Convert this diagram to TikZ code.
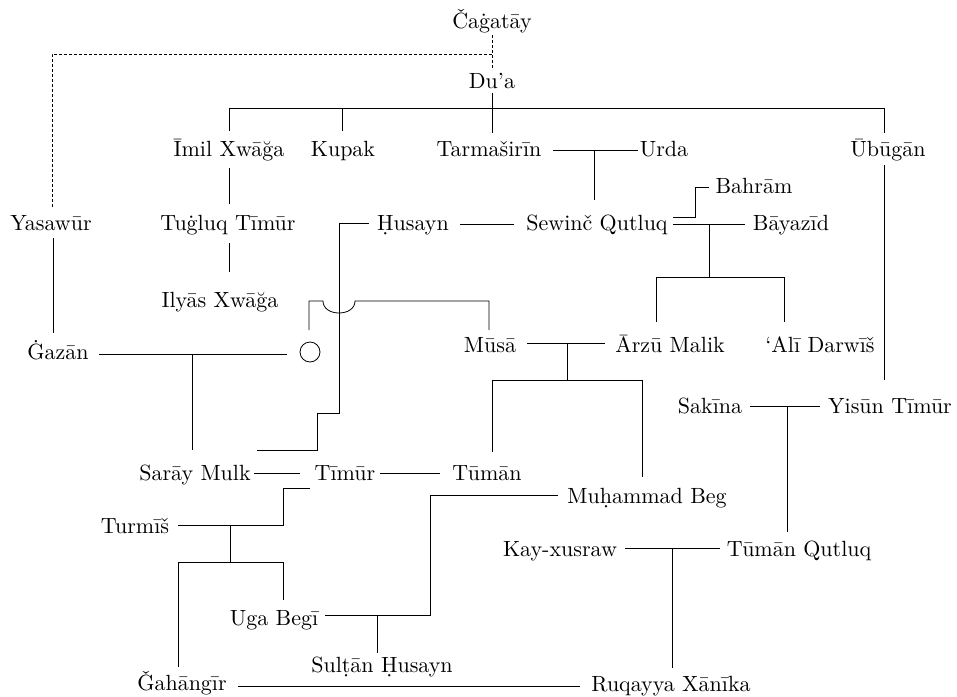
\documentclass[tikz,border=0pt]{standalone}
\usepackage{fontspec}
\setmainfont{lmroman10-regular.otf}
\begin{document}
\begin{tikzpicture}[x=1pt,y=-1pt,
  person/.style={inner sep=0pt, outer sep=0pt, anchor=base, font=\fontsize{22}{26}\selectfont},
  link/.style={line width=0.8pt, black},
  dl/.style={line width=0.8pt, black, dash pattern=on 3pt off 2pt}]
\useasboundingbox (0,0) rectangle (957,696);
% nodes
\node[person] (cag) at (492,28) {Čaġatāy};
\node[person] (dua) at (492,88) {Du’a};
\node[person] (imil) at (229,156) {Īmil Xwāğa};
\node[person] (kupak) at (343,156) {Kupak};
\node[person] (tarm) at (489,156) {Tarmaširīn};
\node[person] (urda) at (664,156) {Urda};
\node[person] (ubug) at (888,156) {Ūbūgān};
\node[person] (bahram) at (754,193) {Bahrām};
\node[person] (yasa) at (51,230) {Yasawūr};
\node[person] (tugluq) at (228,230) {Tuġluq Tīmūr};
\node[person] (husayn) at (413,230) {Ḥusayn};
\node[person] (sewinc) at (597,230) {Sewinč Qutluq};
\node[person] (bayazid) at (791,230) {Bāyazīd};
\node[person] (ilyas) at (220,307) {Ilyās Xwāğa};
\node[person] (gazan) at (58,359) {Ġazān};
\node[draw, circle, line width=0.8pt, minimum size=20pt, inner sep=0pt] (circ) at (310,352) {};
\node[person] (musa) at (490,352) {Mūsā};
\node[person] (arzu) at (670,352) {Ārzū Malik};
\node[person] (ali) at (820,352) {‘Alī Darwīš};
\node[person] (sakina) at (710,413) {Sakīna};
\node[person] (yisun) at (890,413) {Yisūn Tīmūr};
\node[person] (saray) at (195,480) {Sarāy Mulk};
\node[person] (timur) at (345,480) {Tīmūr};
\node[person] (tuman) at (487,480) {Tūmān};
\node[person] (muhammad) at (647,503) {Muḥammad Beg};
\node[person] (turmis) at (135,533) {Turmīš};
\node[person] (kay) at (560,556) {Kay-xusraw};
\node[person] (tumanq) at (799,556) {Tūmān Qutluq};
\node[person] (uga) at (274,625) {Uga Begī};
\node[person] (sultan) at (382,672) {Sulṭān Ḥusayn};
\node[person] (gahan) at (182,690) {Ǧahāngīr};
\node[person] (ruq) at (671,691) {Ruqayya Xānīka};
% dashed
\coordinate (dashj) at ([shift={(0,26)}]cag.base);
\draw[dl] ([shift={(0,7)}]cag.base) -- ([shift={(0,-18)}]dua.base);
\draw[dl] (dashj) -| ([shift={(1,-22)}]yasa.base);
% Du'a children
\draw[link] ([shift={(0,5)}]dua.base) -- ([shift={(3,-23)}]tarm.base);
\draw[link] ([shift={(0,-25)}]imil.base) |- ([shift={(-4,-48)}]ubug.base) -- ([shift={(-4,-23)}]ubug.base);
\draw[link] ([shift={(-1,-25)}]kupak.base) -- ++(0,-23);
% Tarmasirin - Urda
\draw[link] ([shift={(64,-6)}]tarm.base) -- ([shift={(-26,-6)}]urda.base);
\draw[link] ([shift={(105,-6)}]tarm.base) -- ([shift={(-3,-30)}]sewinc.base);
% Imil line
\draw[link] ([shift={(0,12)}]imil.base) -- ([shift={(1,-26)}]tugluq.base);
\draw[link] ([shift={(1,13)}]tugluq.base) -- ([shift={(9,-35)}]ilyas.base);
% Ububgan
\draw[link] ([shift={(-4,9)}]ubug.base) -- ([shift={(-6,-33)}]yisun.base);
% Husayn - Sewinc
\draw[link] ([shift={(47,-6)}]husayn.base) -- ([shift={(-83,-6)}]sewinc.base);
\draw[link] ([shift={(-44,-7)}]husayn.base) -| (339,413) -| (317,450) -- ([shift={(62,-30)}]saray.base);
% Sewinc - Bahram / Bayazid
\draw[link] ([shift={(76,-13)}]sewinc.base) -- ++(22,0) |- ([shift={(-45,-6)}]bahram.base);
\draw[link] ([shift={(76,-6)}]sewinc.base) -- ([shift={(-46,-6)}]bayazid.base);
\draw[link] ([shift={(-82,-6)}]bayazid.base) -- ++(0,53);
\draw[link] ([shift={(-14,-30)}]arzu.base) |- ([shift={(-36,-75)}]ali.base) -- ([shift={(-36,-30)}]ali.base);
% Yasawur - Gazan
\draw[link] ([shift={(2,8)}]yasa.base) -- ([shift={(-5,-26)}]gazan.base);
\draw[link] ([shift={(41,-5)}]gazan.base) -- ([shift={(-23,2)}]circ.center);
\draw[link] ([shift={(134,-5)}]gazan.base) -- ([shift={(-3,-30)}]saray.base);
% circle - Musa hook with hop over the Husayn line
\coordinate (hopA) at (323,301);
\coordinate (hopB) at (355,301);
\draw[link] ([shift={(-1,-22)}]circ.center) |- (hopA)
  .. controls (323,317) and (355,317) .. (hopB)
  -| ([shift={(-1,-22)}]musa.base);
% Musa - Arzu
\draw[link] ([shift={(37,-9)}]musa.base) -- ([shift={(-65,-9)}]arzu.base);
\draw[link] ([shift={(77,-9)}]musa.base) -- ++(0,37);
\draw[link] ([shift={(5,-28)}]tuman.base) |- ([shift={(-5,-123)}]muhammad.base) -- ([shift={(-5,-26)}]muhammad.base);
% Sakina - Yisun
\draw[link] ([shift={(40,-7)}]sakina.base) -- ([shift={(-70,-7)}]yisun.base);
\draw[link] ([shift={(77,-7)}]sakina.base) -- ([shift={(-12,-24)}]tumanq.base);
% Saray - Timur - Tuman
\draw[link] ([shift={(59,-7)}]saray.base) -- ([shift={(-45,-7)}]timur.base);
\draw[link] ([shift={(35,-7)}]timur.base) -- ([shift={(-47,-7)}]tuman.base);
% Timur - Turmis
\draw[link] ([shift={(-35,8)}]timur.base) -| (283,525) -- ([shift={(43,-8)}]turmis.base);
\draw[link] ([shift={(95,-8)}]turmis.base) -- ++(0,37);
\draw[link] ([shift={(-4,-23)}]gahan.base) |- ([shift={(9,-63)}]uga.base) -- ([shift={(9,-25)}]uga.base);
% Uga Begi - Muhammad Beg
\draw[link] ([shift={(51,-10)}]uga.base) -| (430,495) -- ([shift={(-89,-8)}]muhammad.base);
\draw[link] ([shift={(103,-10)}]uga.base) -- ([shift={(-5,-19)}]sultan.base);
% Kay-xusraw - Tuman Qutluq
\draw[link] ([shift={(65,-8)}]kay.base) -- ([shift={(-79,-8)}]tumanq.base);
\draw[link] ([shift={(112,-8)}]kay.base) -- ([shift={(1,-23)}]ruq.base);
% Gahangir - Ruqayya
\draw[link] ([shift={(56,-4)}]gahan.base) -- ([shift={(-91,-5)}]ruq.base);
\end{tikzpicture}
\end{document}
